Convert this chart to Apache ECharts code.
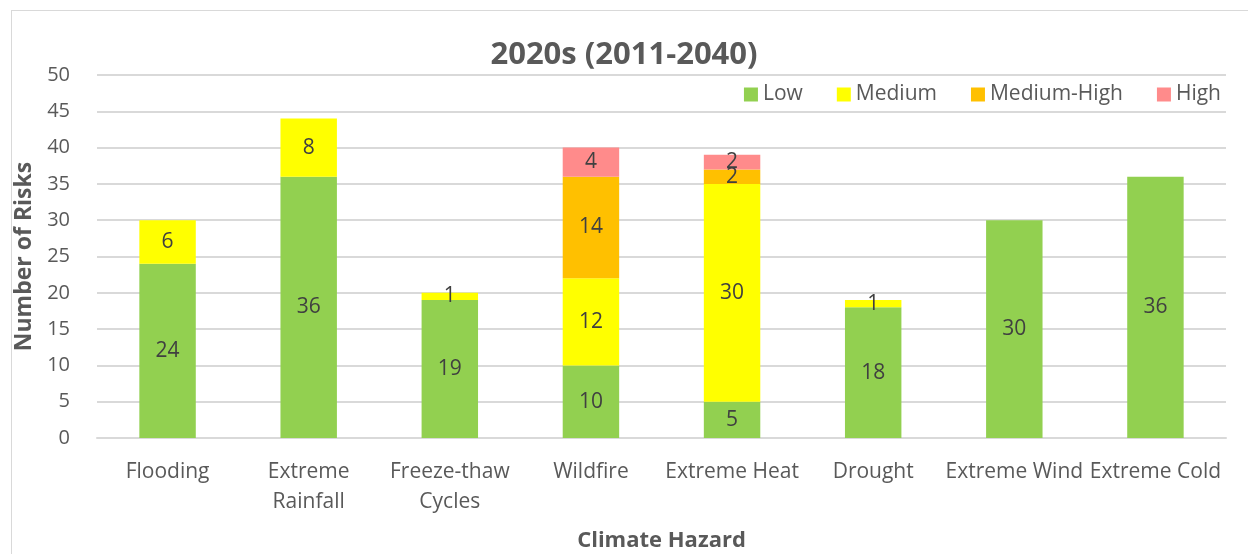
<!DOCTYPE html>
<html>
<head>
<meta charset="utf-8">
<script src="https://cdn.jsdelivr.net/npm/echarts@6/dist/echarts.min.js"></script>
<style>
html,body{margin:0;padding:0;background:#fff;overflow:hidden;width:1248px;height:554px;}
#frame{position:absolute;left:11px;top:10px;width:1250px;height:560px;border:1.5px solid #d9d9d9;box-sizing:border-box;}
#chart{position:absolute;left:0;top:0;width:1248px;height:554px;}
</style>
</head>
<body>
<div id="frame"></div>
<div id="chart"></div>
<script>
const categories = ['Flooding', 'Extreme\nRainfall', 'Freeze-thaw\nCycles', 'Wildfire', 'Extreme Heat', 'Drought', 'Extreme Wind', 'Extreme Cold'];
const low = [24, 36, 19, 10, 5, 18, 30, 36];
const medium = [6, 8, 1, 12, 30, 1, 0, 0];
const mediumHigh = [0, 0, 0, 14, 2, 0, 0, 0];
const high = [0, 0, 0, 4, 2, 0, 0, 0];
const yTicks = {min: 0, max: 50, interval: 5};

const FONT = "'Open Sans', 'Noto Sans', sans-serif";
const chart = echarts.init(document.getElementById('chart'), null, {renderer: 'canvas'});

function mk(name, data, color) {
  return {
    name: name, type: 'bar', stack: 'total', data: data, barWidth: '40%',
    itemStyle: {color: color},
    label: {
      show: true, position: 'inside', color: '#404040', fontFamily: FONT, fontSize: 21,
      formatter: p => p.value ? String(p.value) : ''
    }
  };
}

chart.setOption({
  animation: false,
  textStyle: {fontFamily: FONT},
  title: {
    text: '2020s (2011-2040)', left: 'center', top: 35,
    textStyle: {fontFamily: FONT, fontSize: 31, fontWeight: 'bold', color: '#595959'}
  },
  legend: {
    right: 22, top: 79, itemWidth: 14, itemHeight: 14, itemGap: 34,
    icon: 'rect',
    textStyle: {fontFamily: FONT, fontSize: 21, color: '#595959'}
  },
  grid: {left: 97, right: 22, top: 75, bottom: 116, containLabel: false, outerBoundsMode: 'none'},
  xAxis: {
    type: 'category', data: categories,
    name: 'Climate Hazard', nameLocation: 'middle', nameGap: 92,
    nameTextStyle: {fontFamily: FONT, fontSize: 22, fontWeight: 'bold', color: '#595959'},
    axisLine: {lineStyle: {color: '#d9d9d9', width: 2}},
    axisTick: {show: false},
    axisLabel: {color: '#595959', fontFamily: FONT, fontSize: 21, margin: 19, lineHeight: 30, interval: 0}
  },
  yAxis: {
    type: 'value', min: yTicks.min, max: yTicks.max, interval: yTicks.interval,
    name: 'Number of Risks', nameLocation: 'middle', nameGap: 52,
    nameTextStyle: {fontFamily: FONT, fontSize: 23, fontWeight: 'bold', color: '#595959'},
    axisLine: {show: false}, axisTick: {show: false},
    axisLabel: {color: '#595959', fontFamily: FONT, fontSize: 20, margin: 27},
    splitLine: {lineStyle: {color: '#d9d9d9', width: 2}}
  },
  series: [
    mk('Low', low, '#92D050'),
    mk('Medium', medium, '#FFFF00'),
    mk('Medium-High', mediumHigh, '#FFC000'),
    mk('High', high, '#FF8B8B')
  ]
});
</script>
</body>
</html>
